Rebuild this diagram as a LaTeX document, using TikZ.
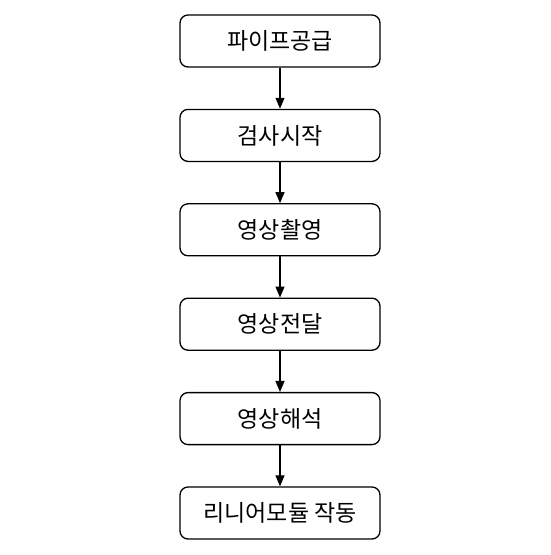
\documentclass[tikz,border=0pt]{standalone}
\usepackage{fontspec}
\setmainfont{Noto Sans CJK KR}
\usetikzlibrary{arrows.meta}
\begin{document}
\begin{tikzpicture}[x=1pt,y=-1pt,
  stepbox/.style={draw=black,line width=1.3pt,rounded corners=8pt,minimum width=200pt,minimum height=52pt,inner sep=0pt,font=\fontsize{23pt}{26pt}\selectfont},
  flow/.style={draw=black,line width=1.2pt,-{Triangle[length=11pt,width=9pt]}}]
\useasboundingbox (0,0) rectangle (550,555);
\node[stepbox] (b1) at (280,41) {파이프공급};
\node[stepbox] (b2) at (280,135.4) {검사시작};
\node[stepbox] (b3) at (280,229.8) {영상촬영};
\node[stepbox] (b4) at (280,324.2) {영상전달};
\node[stepbox] (b5) at (280,418.6) {영상해석};
\node[stepbox] (b6) at (280,513) {리니어모듈 작동};
\draw[flow] (b1) -- (b2);
\draw[flow] (b2) -- (b3);
\draw[flow] (b3) -- (b4);
\draw[flow] (b4) -- (b5);
\draw[flow] (b5) -- (b6);
\end{tikzpicture}
\end{document}
